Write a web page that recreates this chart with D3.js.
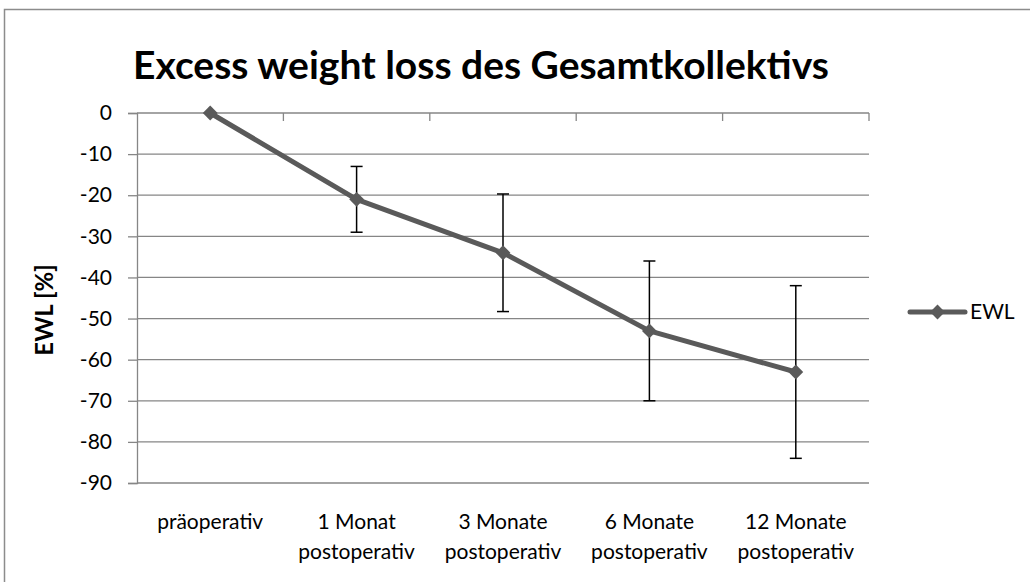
<!DOCTYPE html>
<html>
<head>
<meta charset="utf-8">
<script src="https://cdn.jsdelivr.net/npm/d3@7"></script>
<style>
  body { margin: 0; background: #fff; }
  svg text { font-family: Lato, "Noto Sans", sans-serif; fill: #000; }
</style>
</head>
<body>
<div id="chart"></div>
<script>
// chart data
const categories = [
  ["präoperativ"],
  ["1 Monat", "postoperativ"],
  ["3 Monate", "postoperativ"],
  ["6 Monate", "postoperativ"],
  ["12 Monate", "postoperativ"]
];
const ewlValues = [0, -21, -34, -53, -63];
const ewlErrors = [0, 8, 14.3, 17, 21];
const yTicks = [0, -10, -20, -30, -40, -50, -60, -70, -80, -90];
const seriesName = "EWL";

const W = 1030, H = 582;
const margin = { top: 113, right: 161, bottom: 99, left: 137 };
const width = W - margin.left - margin.right;
const height = H - margin.top - margin.bottom;
const grey = "#868686";
const lineColor = "#5a5a5a";
const fontSize = "21px";

const svg = d3.select("#chart")
  .append("svg")
  .attr("width", W)
  .attr("height", H);

// outer frame
svg.append("rect")
  .attr("x", 4.5).attr("y", 9.5)
  .attr("width", W + 10).attr("height", H + 10)
  .attr("fill", "none")
  .attr("stroke", "#8c8c8c")
  .attr("stroke-width", 1.5);

svg.append("text")
  .attr("x", 481)
  .attr("y", 79)
  .attr("text-anchor", "middle")
  .style("font-size", "39px")
  .style("font-weight", "bold")
  .text("Excess weight loss des Gesamtkollektivs");

const g = svg.append("g")
  .attr("transform", "translate(" + margin.left + "," + margin.top + ")");

const x = d3.scaleBand().domain(categories.map((d, i) => i)).range([0, width]);
const y = d3.scaleLinear().domain([-90, 0]).range([height, 0]);

// gridlines
g.selectAll(".grid")
  .data(yTicks)
  .enter()
  .append("line")
  .attr("class", "grid")
  .attr("x1", 0).attr("x2", width)
  .attr("y1", d => y(d)).attr("y2", d => y(d))
  .attr("stroke", grey)
  .attr("stroke-width", 1.3);

// y axis
const yAxis = g.append("g")
  .call(d3.axisLeft(y).tickValues(yTicks).tickSize(9).tickPadding(16).tickFormat(d => String(d)));
yAxis.select(".domain").attr("stroke", grey).attr("stroke-width", 1.3);
yAxis.selectAll(".tick line").attr("stroke", grey).attr("stroke-width", 1.3);
yAxis.selectAll("text").style("font-size", fontSize).attr("fill", "#000")
  .style("font-family", "Lato, 'Noto Sans', sans-serif");

// x axis crossing at 0, with ticks at category boundaries
g.selectAll(".xtick")
  .data(d3.range(1, categories.length + 1))
  .enter()
  .append("line")
  .attr("class", "xtick")
  .attr("x1", i => i * x.step()).attr("x2", i => i * x.step())
  .attr("y1", y(0)).attr("y2", y(0) + 8)
  .attr("stroke", grey)
  .attr("stroke-width", 1.3);

// category labels at the bottom
const labels = g.selectAll(".xlabel")
  .data(categories)
  .enter()
  .append("text")
  .attr("class", "xlabel")
  .attr("text-anchor", "middle")
  .style("font-size", fontSize);
labels.selectAll("tspan")
  .data((d, i) => d.map(line => ({ line, i })))
  .enter()
  .append("tspan")
  .attr("x", d => x(d.i) + x.bandwidth() / 2)
  .attr("y", (d, j) => height + 46 + j * 30)
  .text(d => d.line);

// y axis title
svg.append("text")
  .attr("transform", "translate(53,310) rotate(-90)")
  .attr("text-anchor", "middle")
  .style("font-size", "24px")
  .style("font-weight", "bold")
  .text("EWL [%]");

const cx = i => x(i) + x.bandwidth() / 2;

// series line
const line = d3.line()
  .x((d, i) => cx(i))
  .y(d => y(d));
g.append("path")
  .datum(ewlValues)
  .attr("d", line)
  .attr("fill", "none")
  .attr("stroke", lineColor)
  .attr("stroke-width", 5)
  .attr("stroke-linejoin", "round");

// error bars
const errData = ewlValues.map((v, i) => ({ i, v, e: ewlErrors[i] })).filter(d => d.e > 0);
const eb = g.selectAll(".err")
  .data(errData)
  .enter()
  .append("g")
  .attr("class", "err")
  .attr("stroke", "#000")
  .attr("stroke-width", 1.5);
eb.append("line")
  .attr("x1", d => cx(d.i)).attr("x2", d => cx(d.i))
  .attr("y1", d => y(d.v + d.e)).attr("y2", d => y(d.v - d.e));
eb.append("line")
  .attr("x1", d => cx(d.i) - 6).attr("x2", d => cx(d.i) + 6)
  .attr("y1", d => y(d.v + d.e)).attr("y2", d => y(d.v + d.e));
eb.append("line")
  .attr("x1", d => cx(d.i) - 6).attr("x2", d => cx(d.i) + 6)
  .attr("y1", d => y(d.v - d.e)).attr("y2", d => y(d.v - d.e));

// diamond markers
const diamond = d3.symbol().type(d3.symbolSquare).size(110);
g.selectAll(".marker")
  .data(ewlValues)
  .enter()
  .append("path")
  .attr("class", "marker")
  .attr("d", diamond)
  .attr("transform", (d, i) => "translate(" + cx(i) + "," + y(d) + ") rotate(45)")
  .attr("fill", lineColor);

// legend
const legend = svg.append("g").attr("transform", "translate(910,312)");
legend.append("line")
  .attr("x1", 0).attr("x2", 55)
  .attr("stroke", lineColor)
  .attr("stroke-width", 5)
  .attr("stroke-linecap", "round");
legend.append("path")
  .attr("d", diamond)
  .attr("transform", "translate(27.5,0) rotate(45)")
  .attr("fill", lineColor);
legend.append("text")
  .attr("x", 60)
  .attr("y", 7)
  .style("font-size", fontSize)
  .text(seriesName);
</script>
</body>
</html>
